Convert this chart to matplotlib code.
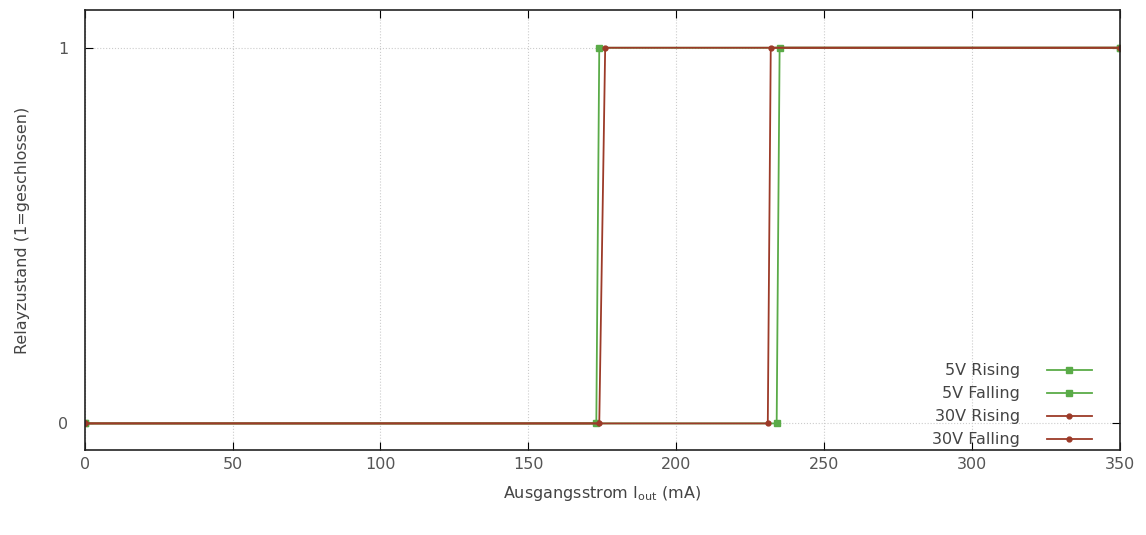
import matplotlib.pyplot as plt

plt.rcParams['font.family'] = ['DejaVu Sans']
plt.rcParams['text.color'] = '#444444'
plt.rcParams['axes.labelcolor'] = '#444444'

# Relaiszustand ueber Ausgangsstrom, je Spannung auf- und absteigend gemessen
rise_5v_x = [0, 173, 174, 350]
rise_5v_y = [0, 0, 1, 1]
fall_5v_x = [350, 235, 234, 0]
fall_5v_y = [1, 1, 0, 0]
rise_30v_x = [0, 174, 176, 350]
rise_30v_y = [0, 0, 1, 1]
fall_30v_x = [350, 232, 231, 0]
fall_30v_y = [1, 1, 0, 0]

green = '#5aab48'
red = '#9c3a28'

fig = plt.figure(figsize=(11.46, 5.35), dpi=100)
ax = fig.add_axes([0.074, 0.158, 0.903, 0.823])

ax.plot(rise_5v_x, rise_5v_y, color=green, lw=1.3, marker='s', ms=4, label='5V Rising')
ax.plot(fall_5v_x, fall_5v_y, color=green, lw=1.3, marker='s', ms=4, label='5V Falling')
ax.plot(rise_30v_x, rise_30v_y, color=red, lw=1.3, marker='o', ms=3.5, label='30V Rising')
ax.plot(fall_30v_x, fall_30v_y, color=red, lw=1.3, marker='o', ms=3.5, label='30V Falling')

ax.set_xlim(0, 350)
ax.set_ylim(-0.072, 1.1)
ax.set_xticks(range(0, 351, 50))
ax.set_yticks([0, 1])
ax.grid(True, color='#cccccc', ls=':', lw=0.8)
ax.tick_params(direction='in', top=True, right=True, length=6, labelsize=11.5,
               labelcolor='#555555')
ax.tick_params(axis='x', pad=5)
ax.tick_params(axis='y', pad=12)
for s in ax.spines.values():
    s.set_color('#222222')
    s.set_linewidth(1.2)

ax.set_xlabel(r'Ausgangsstrom I$_{\mathrm{out}}$ (mA)', fontsize=11.5, labelpad=8)
ax.set_ylabel('Relayzustand (1=geschlossen)', fontsize=11.5, labelpad=20)

ax.legend(loc='lower right', bbox_to_anchor=(0.976, 0.0), frameon=False,
          markerfirst=False, fontsize=11.5, handlelength=2.8,
          labelspacing=0.5, borderaxespad=0.0, borderpad=0.2,
          handletextpad=1.7)

plt.savefig('out.png')
